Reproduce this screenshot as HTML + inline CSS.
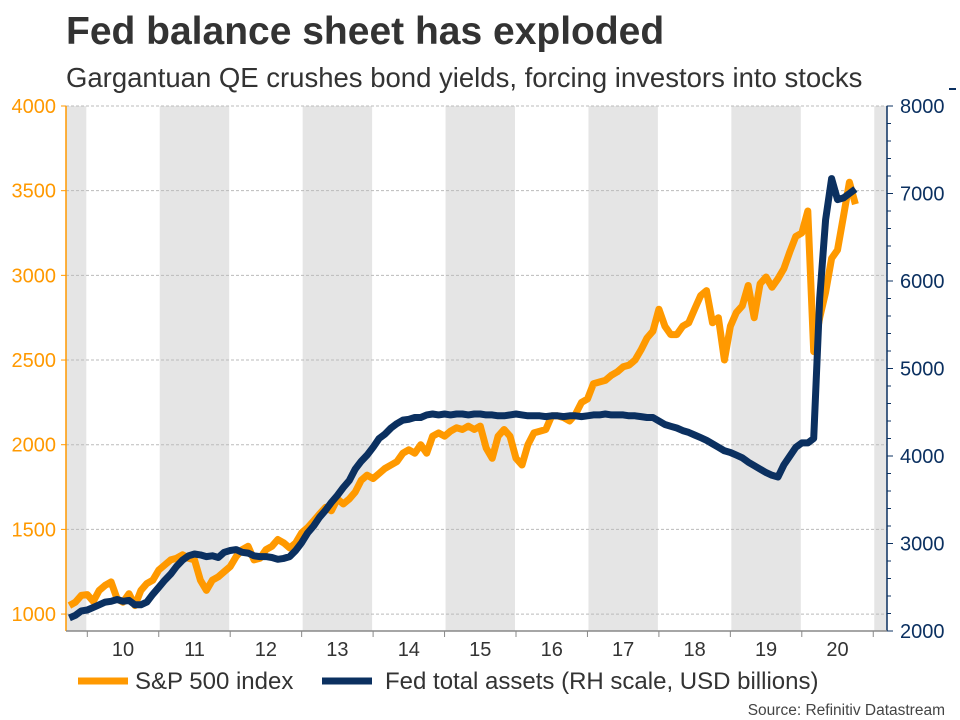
<!DOCTYPE html>
<html><head><meta charset="utf-8">
<style>
body{margin:0;background:#fff;width:960px;height:720px;overflow:hidden;font-family:"Liberation Sans",Arial,sans-serif;}
svg{position:absolute;left:0;top:0;}
</style></head>
<body>
<svg id="chart" width="960" height="720">
<text x="66" y="44" font-size="39" font-weight="bold" fill="#333">Fed balance sheet has exploded</text>
<text x="66" y="87" font-size="27.5" fill="#333">Gargantuan QE crushes bond yields, forcing investors into stocks</text>
<line x1="949" y1="89" x2="956" y2="89" stroke="#0b3060" stroke-width="2"/>
<g id="bands"></g><g id="grid"></g><g id="axes"></g><g id="series"></g>
<g>
<line x1="78" y1="681" x2="128" y2="681" stroke="#ff9900" stroke-width="7"/>
<text x="135" y="689" font-size="24" fill="#333">S&amp;P 500 index</text>
<line x1="322" y1="681" x2="372" y2="681" stroke="#0b3060" stroke-width="7"/>
<text x="385" y="689" font-size="24" fill="#333">Fed total assets (RH scale, USD billions)</text>
</g>
<text x="945" y="715" font-size="15.5" fill="#444" text-anchor="end">Source: Refinitiv Datastream</text>
</svg>
<script>
const years = [10,11,12,13,14,15,16,17,18,19,20];
const leftTicks = [1000,1500,2000,2500,3000,3500,4000];
const rightTicks = [2000,3000,4000,5000,6000,7000,8000];
const startYear = 2009.75;
const sp500 = [1050,1070,1110,
1115,1075,1140,1170,1190,1090,1070,1120,1050,1140,1180,1200,
1260,1290,1320,1330,1350,1330,1320,1200,1140,1200,1220,1250,
1280,1340,1380,1400,1320,1330,1380,1400,1440,1420,1390,1420,
1480,1510,1550,1590,1630,1610,1680,1650,1680,1720,1790,1820,
1800,1830,1860,1880,1900,1950,1970,1950,2000,1950,2050,2070,
2050,2080,2100,2090,2110,2090,2110,1980,1920,2050,2090,2050,
1920,1880,2000,2070,2080,2090,2170,2170,2160,2140,2180,2250,
2270,2360,2370,2380,2410,2430,2460,2470,2500,2560,2630,2670,
2800,2700,2650,2650,2700,2720,2800,2880,2910,2720,2750,2500,
2700,2780,2820,2940,2750,2950,2990,2930,2980,3040,3140,3230,
3250,3380,2550,2750,2900,3100,3150,3350,3550,3420];
const fedAssets = [2150,2180,2230,
2240,2270,2300,2330,2340,2360,2340,2350,2300,2300,2330,2420,
2500,2580,2650,2740,2810,2860,2880,2870,2850,2860,2840,2900,
2920,2930,2900,2890,2860,2850,2850,2840,2820,2830,2850,2920,
3010,3120,3200,3300,3380,3470,3550,3640,3720,3850,3940,4010,
4100,4200,4250,4320,4370,4410,4420,4440,4440,4470,4480,4470,
4480,4470,4480,4480,4470,4480,4480,4470,4470,4460,4460,4470,
4480,4470,4460,4460,4460,4450,4460,4460,4450,4460,4460,4450,
4460,4470,4470,4480,4470,4470,4470,4460,4460,4450,4440,4440,
4400,4360,4340,4320,4290,4270,4240,4210,4180,4140,4100,4060,
4040,4010,3980,3930,3890,3850,3810,3780,3760,3900,4000,4100,
4150,4150,4200,5800,6700,7170,6930,6950,7000,7050];

const NS='http://www.w3.org/2000/svg';
const L=66,R=887,T=106,B=631;
const xS=t=>87.3+(t-2010)*71.45;
const yL=v=>B-(v-900)/3100*(B-T);
const yR=v=>B-(v-2000)/6000*(B-T);
function mk(tag,attrs,parent){const e=document.createElementNS(NS,tag);for(const k in attrs)e.setAttribute(k,attrs[k]);parent.appendChild(e);return e;}
const bands=document.getElementById('bands'),grid=document.getElementById('grid'),axes=document.getElementById('axes'),ser=document.getElementById('series');
for(let y=2009;y<=2021;y+=2){
  const x1=Math.max(L,xS(y)+1),x2=Math.min(R,xS(y+1)-1);
  const r=mk('rect',{x:x1,y:T,width:x2-x1,height:B-T,fill:'#e5e5e5'},bands);
  
  
}
leftTicks.forEach(v=>{
  const l=mk('line',{x1:L,x2:R,y1:yL(v),y2:yL(v),stroke:'#bbb','stroke-dasharray':'3,2','stroke-width':1},grid);
  
  
  mk('line',{x1:L-5,x2:L,y1:yL(v),y2:yL(v),stroke:'#ff9900'},axes);
  const t=mk('text',{x:L-10,y:yL(v)+7,'font-size':20,fill:'#ff9900','text-anchor':'end'},axes);
  t.textContent=v;
  
  
});
for(let v=2000;v<=8000;v+=200){
  mk('line',{x1:R,x2:R+(v%1000===0?6:4),y1:yR(v),y2:yR(v),stroke:'#0b3060'},axes);
}
rightTicks.forEach(v=>{
  const t=mk('text',{x:R+13,y:yR(v)+7,'font-size':20,fill:'#0b3060'},axes);
  t.textContent=v;
  
  
});
const la=mk('line',{x1:L,x2:L,y1:T,y2:B,stroke:'#ff9900','stroke-width':1.5},axes);


const ra=mk('line',{x1:R,x2:R,y1:T,y2:B,stroke:'#0b3060','stroke-width':1.5},axes);


const xa=mk('line',{x1:L,x2:R,y1:B,y2:B,stroke:'#888','stroke-width':1.5},axes);


for(let y=2010;y<=2021;y++) mk('line',{x1:xS(y),x2:xS(y),y1:B,y2:B+6,stroke:'#888'},axes);
years.forEach(yy=>{
  const t=mk('text',{x:xS(2000+yy+0.5),y:B+25,'font-size':20,fill:'#333','text-anchor':'middle'},axes);
  t.textContent=yy;
  
  
});
function path(vals,ys){return vals.map((v,i)=>(i?'L':'M')+xS(startYear+i/12).toFixed(1)+','+ys(v).toFixed(1)).join('');}
const p1=mk('path',{d:path(sp500,yL),fill:'none',stroke:'#ff9900','stroke-width':7,'stroke-linejoin':'round'},ser);


const p2=mk('path',{d:path(fedAssets,yR),fill:'none',stroke:'#0b3060','stroke-width':7,'stroke-linejoin':'round'},ser);


</script>
</body></html>
